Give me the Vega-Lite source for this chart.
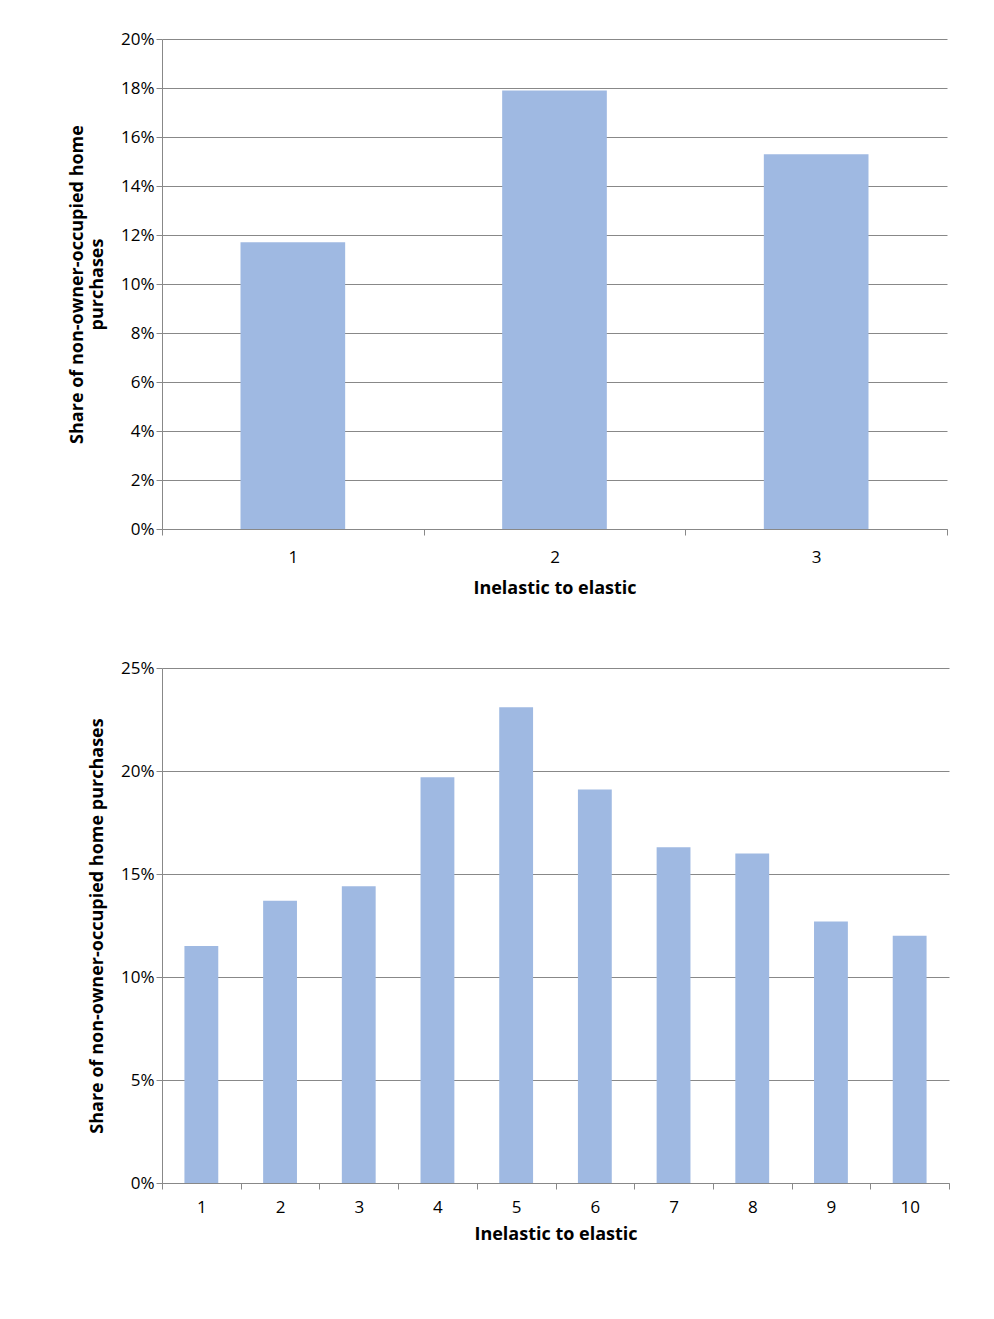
{
"$schema":"https://vega.github.io/schema/vega-lite/v6.json",
"background":"white",
"padding":{"left":68,"top":30,"right":10,"bottom":5},
"spacing":62,
"config":{"font":"Liberation Sans","view":{"stroke":null},
"axis":{"labelFont":"Open Sans","labelFontSize":17,"labelColor":"#000","titleFont":"Open Sans","titleFontSize":18,"titleFontWeight":"bold","titleColor":"#000","domainColor":"#888","tickColor":"#888","gridColor":"#888","tickSize":6}},
"vconcat":[
{"width":785,"height":490,
"data":{"values":[{"q":"1","v":0.117},{"q":"2","v":0.179},{"q":"3","v":0.153}]},
"mark":{"type":"bar","color":"#9fb9e2","width":{"band":0.4}},
"encoding":{
"x":{"field":"q","type":"ordinal","scale":{"paddingInner":0,"paddingOuter":0},"axis":{"labelAngle":0,"tickBand":"extent","title":"Inelastic to elastic","labelPadding":14,"titlePadding":14}},
"y":{"field":"v","type":"quantitative","scale":{"domain":[0,0.2]},"axis":{"format":"%","tickCount":10,"title":["Share of non-owner-occupied home","purchases"],"titlePadding":14}}}},
{"width":787,"height":515,
"data":{"values":[{"q":"1","v":0.115},{"q":"2","v":0.137},{"q":"3","v":0.144},{"q":"4","v":0.197},{"q":"5","v":0.231},{"q":"6","v":0.191},{"q":"7","v":0.163},{"q":"8","v":0.160},{"q":"9","v":0.127},{"q":"10","v":0.120}]},
"mark":{"type":"bar","color":"#9fb9e2","width":{"band":0.43}},
"encoding":{
"x":{"field":"q","type":"ordinal","sort":null,"scale":{"paddingInner":0,"paddingOuter":0},"axis":{"labelAngle":0,"tickBand":"extent","title":"Inelastic to elastic","labelPadding":10,"titlePadding":10}},
"y":{"field":"v","type":"quantitative","scale":{"domain":[0,0.25]},"axis":{"format":"%","tickCount":5,"title":"Share of non-owner-occupied home purchases","titlePadding":14}}}}
]}
